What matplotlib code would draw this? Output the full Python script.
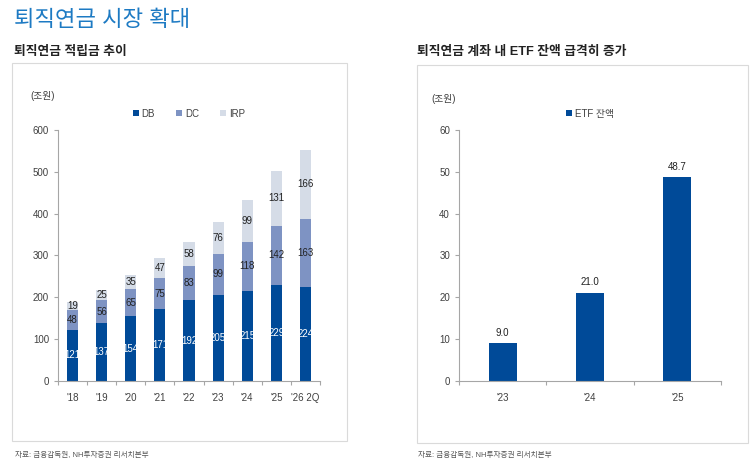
import matplotlib
matplotlib.use("Agg")
import matplotlib.pyplot as plt
from matplotlib.patches import Rectangle
import numpy as np

plt.rcParams['font.family'] = ['Liberation Sans', 'Noto Sans CJK KR']

# 퇴직연금 적립금 (조원)
years = ["'18", "'19", "'20", "'21", "'22", "'23", "'24", "'25", "'26 2Q"]
db = [121, 137, 154, 171, 192, 205, 215, 229, 224]
dc = [48, 56, 65, 75, 83, 99, 118, 142, 163]
irp = [19, 25, 35, 47, 58, 76, 99, 131, 166]

# ETF 잔액 (조원)
etf_years = ["'23", "'24", "'25"]
etf = [9.0, 21.0, 48.7]

c_db = '#004A98'
c_dc = '#7E93C3'
c_irp = '#D5DCE7'
tick_c = '#404040'

fig = plt.figure(figsize=(7.55, 4.65), dpi=100)

fig.text(14/755, 1-20/465, '퇴직연금 시장 확대', fontsize=16, color='#1D7AC3',
         va='center', ha='left')
fig.text(14/755, 1-52/465, '퇴직연금 적립금 추이', fontsize=9.2, color='#222222',
         va='center', ha='left', fontweight='bold')
fig.text(417/755, 1-52/465, '퇴직연금 계좌 내 ETF 잔액 급격히 증가', fontsize=9.2,
         color='#222222', va='center', ha='left', fontweight='bold')

# panel boxes
for x0, x1, y0, y1 in [(12, 347, 63, 441), (417, 748, 65, 443)]:
    fig.patches.append(Rectangle((x0/755, 1-y1/465), (x1-x0)/755, (y1-y0)/465,
                                 transform=fig.transFigure, fill=False,
                                 edgecolor='#DADADA', linewidth=0.8))

src = '자료: 금융감독원, NH투자증권 리서치본부'
fig.text(15/755, 1-455/465, src, fontsize=5.5, color='#555555', va='center')
fig.text(418/755, 1-455/465, src, fontsize=5.5, color='#555555', va='center')


def style(ax):
    for s in ['top', 'right']:
        ax.spines[s].set_visible(False)
    for s in ['left', 'bottom']:
        ax.spines[s].set_color('#A6A6A6')
        ax.spines[s].set_linewidth(0.8)
    ax.tick_params(axis='y', colors='#A6A6A6', labelcolor=tick_c, labelsize=7,
                   length=3, width=0.8)
    ax.tick_params(axis='x', which='major', length=0, labelcolor=tick_c,
                   labelsize=7, pad=9)
    ax.tick_params(axis='x', which='minor', length=3, width=0.8, colors='#A6A6A6')


# left chart
ax1 = fig.add_axes([58/755, 1-380.7/465, 262/755, 250.7/465])
x = np.arange(len(years))
w = 0.38
b1 = ax1.bar(x, db, w, color=c_db, label='DB')
b2 = ax1.bar(x, dc, w, bottom=db, color=c_dc, label='DC')
bot = np.array(db) + np.array(dc)
b3 = ax1.bar(x, irp, w, bottom=bot, color=c_irp, label='IRP')
ax1.bar_label(b1, label_type='center', color='white', fontsize=7)
ax1.bar_label(b2, label_type='center', color='#222222', fontsize=7)
ax1.bar_label(b3, label_type='center', color='#222222', fontsize=7)
ax1.set_xlim(-0.5, len(years) - 0.5)
ax1.set_ylim(0, 600)
ax1.set_yticks(range(0, 601, 100))
ax1.set_xticks(x)
ax1.set_xticklabels(years)
ax1.set_xticks(np.arange(-0.5, len(years), 1), minor=True)
style(ax1)
ax1.legend(loc='upper center', bbox_to_anchor=(0.5, 1.12), ncol=3, frameon=False,
           fontsize=7, handlelength=0.6, handleheight=0.6, handletextpad=0.3,
           columnspacing=2.2, labelcolor=tick_c)
fig.text(30/755, 1-96/465, '(조원)', fontsize=7, color=tick_c, va='center')

# right chart
ax2 = fig.add_axes([459/755, 1-380.7/465, 262/755, 250.7/465])
x2 = np.arange(len(etf_years))
b4 = ax2.bar(x2, etf, 0.32, color=c_db, label='ETF 잔액')
ax2.bar_label(b4, labels=[f'{v:.1f}' for v in etf], padding=4, color='#222222',
              fontsize=7)
ax2.set_xlim(-0.5, len(etf_years) - 0.5)
ax2.set_ylim(0, 60)
ax2.set_yticks(range(0, 61, 10))
ax2.set_xticks(x2)
ax2.set_xticklabels(etf_years)
ax2.set_xticks(np.arange(-0.5, len(etf_years), 1), minor=True)
style(ax2)
ax2.legend(loc='upper center', bbox_to_anchor=(0.5, 1.12), frameon=False,
           fontsize=7, handlelength=0.6, handleheight=0.6, handletextpad=0.3,
           labelcolor=tick_c)
fig.text(431/755, 1-99/465, '(조원)', fontsize=7, color=tick_c, va='center')

fig.savefig('out.png', dpi=100)
